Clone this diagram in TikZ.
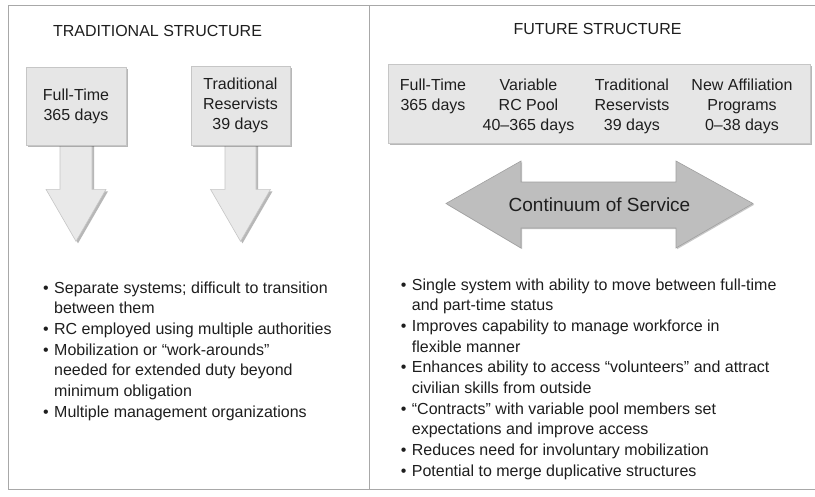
\documentclass[tikz,border=0pt]{standalone}
\usepackage{fontspec}
\setmainfont{Liberation Sans}
\usetikzlibrary{shadows,calc}
\definecolor{txt}{HTML}{1E1E1E}
\definecolor{framec}{HTML}{A8A8A8}
\definecolor{boxfill}{HTML}{E6E6E6}
\definecolor{boxline}{HTML}{C6C6C6}
\definecolor{arrfill}{HTML}{E9E9E9}
\definecolor{bigarr}{HTML}{BEBEBE}
\definecolor{bigarrline}{HTML}{A0A0A0}
\newcommand{\itembul}{\llap{\textbullet\hspace{5.5pt}}}
\pgfdeclarelayer{back}
\pgfdeclarelayer{mid}
\pgfsetlayers{back,mid,main}
\begin{document}
\begin{tikzpicture}[x=1pt,y=-1pt,
  every node/.style={text=txt, inner sep=0pt, font=\fontsize{16}{20}\selectfont},
  shad/.style={drop shadow={shadow xshift=2pt, shadow yshift=-2pt, opacity=0.4, fill=black!70}},
  srcbox/.style={draw=boxline, fill=boxfill, line width=0.6pt, shad, align=center},
  col/.style={align=center, anchor=north},
  downarr/.style={draw=boxline, fill=arrfill, line width=0.6pt, shad},
  bigarrow/.style={draw=bigarrline, fill=bigarr, line width=0.6pt, drop shadow={shadow xshift=1.2pt, shadow yshift=-1.2pt, opacity=0.3, fill=black!70}},
  bullets/.style={align=left, anchor=north west, font=\fontsize{16}{20.67}\selectfont},
  heading/.style={anchor=base},
]
\useasboundingbox (0,0) rectangle (815,496);
\begin{pgfonlayer}{back}
  \fill[white] (0,0) rectangle (815,496);
  \draw[framec, line width=0.8pt] (816,5.5) -- (8,5.5) -- (8,489) -- (816,489);
  \draw[framec, line width=0.8pt] (369,5.5) -- (369,489);
\end{pgfonlayer}

% headings
\node[heading] (tth) at (157.5,36) {TRADITIONAL STRUCTURE};
\node[heading] (fth) at (597.5,34.5) {FUTURE STRUCTURE};

% traditional boxes
\node[srcbox, minimum width=100pt, minimum height=78pt] (b1) at (76,106) {Full-Time\\365 days};
\node[srcbox, minimum width=99pt, minimum height=79pt] (b2) at (240.5,105.5) {Traditional\\Reservists\\39 days};

\begin{pgfonlayer}{mid}
  \draw[downarr] ($(b1.south)+(-16,-2)$) -- ++(0,46) -- ++(-14,0) -- ($(b1.south)+(0,96)$)
     -- ($(b1.south)+(30,44)$) -- ++(-14,0) -- ($(b1.south)+(16,-2)$) -- cycle;
  \draw[downarr] ($(b2.south)+(-15.5,-2)$) -- ++(0,46) -- ++(-14.5,0) -- ($(b2.south)+(0,96)$)
     -- ($(b2.south)+(30,44)$) -- ++(-14.5,0) -- ($(b2.south)+(15.5,-2)$) -- cycle;
\end{pgfonlayer}

% future box
\node[srcbox, minimum width=422pt, minimum height=79pt] (fb) at (599,103.5) {};
\node[col] (c1) at (433,76) {\strut Full-Time\\365 days};
\node[col] (c2) at (528.5,76) {\strut Variable\\RC Pool\\40–365 days};
\node[col] (c3) at (632,76) {\strut Traditional\\Reservists\\39 days};
\node[col] (c4) at (742,76) {\strut New Affiliation\\Programs\\0–38 days};

% continuum arrow
\node[font=\fontsize{19}{22}\selectfont] (cs) at (599.5,204.5) {Continuum of Service};
\begin{pgfonlayer}{mid}
  \draw[bigarrow] ($(cs)+(-153.5,-1)$) -- ($(cs)+(-78.5,-43.5)$) -- ($(cs)+(-78.5,-22.5)$)
    -- ($(cs)+(76.5,-22.5)$) -- ($(cs)+(76.5,-43.5)$) -- ($(cs)+(153.5,-1)$)
    -- ($(cs)+(76.5,43.5)$) -- ($(cs)+(76.5,23.5)$) -- ($(cs)+(-78.5,23.5)$)
    -- ($(cs)+(-78.5,43.5)$) -- cycle;
\end{pgfonlayer}

% bullet lists
\node[bullets] (lt) at (54,278.5) {\strut\itembul Separate systems; difficult to transition\\
between them\\
\itembul RC employed using multiple authorities\\
\itembul Mobilization or “work-arounds”\\
needed for extended duty beyond\\
minimum obligation\\
\itembul Multiple management organizations};

\node[bullets] (rt) at (411.7,275.5) {\strut\itembul Single system with ability to move between full-time\\
and part-time status\\
\itembul Improves capability to manage workforce in\\
flexible manner\\
\itembul Enhances ability to access “volunteers” and attract\\
civilian skills from outside\\
\itembul “Contracts” with variable pool members set\\
expectations and improve access\\
\itembul Reduces need for involuntary mobilization\\
\itembul Potential to merge duplicative structures};
\end{tikzpicture}
\end{document}
